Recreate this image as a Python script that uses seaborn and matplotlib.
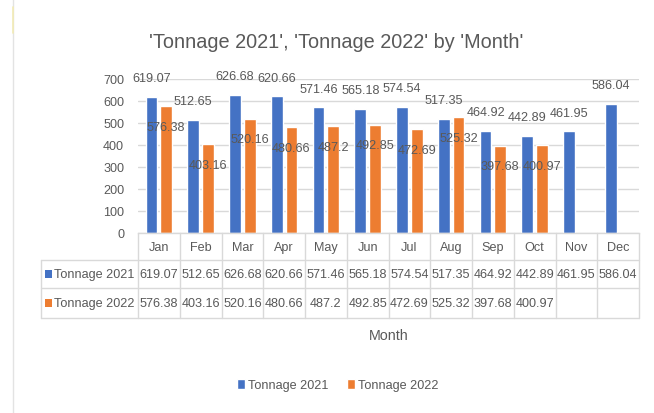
import matplotlib
matplotlib.use("Agg")
import matplotlib.pyplot as plt
import matplotlib.transforms as mtransforms
from matplotlib.lines import Line2D
from matplotlib.patches import Rectangle
import numpy as np
import pandas as pd
import seaborn as sns

# ---- data -------------------------------------------------------------
months = ["Jan", "Feb", "Mar", "Apr", "May", "Jun",
          "Jul", "Aug", "Sep", "Oct", "Nov", "Dec"]
tonnage_2021 = [619.07, 512.65, 626.68, 620.66, 571.46, 565.18,
                574.54, 517.35, 464.92, 442.89, 461.95, 586.04]
tonnage_2022 = [576.38, 403.16, 520.16, 480.66, 487.2, 492.85,
                472.69, 525.32, 397.68, 400.97, np.nan, np.nan]
series_names = ["Tonnage 2021", "Tonnage 2022"]
y_ticks = [0, 100, 200, 300, 400, 500, 600, 700]

# ---- style ------------------------------------------------------------
BLUE = "#4472C4"
ORANGE = "#ED7D31"
TEXT = "#595959"
GRID = "#D9D9D9"
W, H = 654, 414
FS = 9.1

sns.set_theme(style="white")
plt.rcParams["font.family"] = ["Liberation Sans", "DejaVu Sans"]
plt.rcParams["text.color"] = TEXT

def fx(px):
    return px / W

def fy(py):
    return 1 - py / H

df = pd.DataFrame({
    "Month": months * 2,
    "Tonnage": tonnage_2021 + tonnage_2022,
    "Series": [series_names[0]] * 12 + [series_names[1]] * 12,
})

fig = plt.figure(figsize=(W / 100, H / 100), dpi=100)
ax_left, ax_right, ax_top, ax_bottom = 138, 639, 80, 234
ax = fig.add_axes([fx(ax_left), fy(ax_bottom),
                   (ax_right - ax_left) / W, (ax_bottom - ax_top) / H])

sns.barplot(data=df, x="Month", y="Tonnage", hue="Series",
            order=months, hue_order=series_names,
            palette=[BLUE, ORANGE], saturation=1, errorbar=None,
            width=0.7, gap=0.2, ax=ax)

ax.set_xlim(-0.5, 11.5)
ax.set_ylim(0, 700)
ax.set_yticks(y_ticks)
ax.yaxis.grid(True, color=GRID, lw=1)
ax.set_axisbelow(True)
for side in ("left", "right", "top"):
    ax.spines[side].set_visible(False)
ax.spines["bottom"].set_color(GRID)
ax.spines["bottom"].set_linewidth(1)
ax.tick_params(axis="y", length=0, pad=10, labelsize=FS, labelcolor=TEXT)
ax.tick_params(axis="x", length=0, pad=5.5, labelsize=FS, labelcolor=TEXT)
ax.set_ylabel("")
ax.set_xlabel("Month", fontsize=10.3, color=TEXT)
ax.xaxis.set_label_coords(0.5, -(336 - ax_bottom) / (ax_bottom - ax_top))
ax.xaxis.label.set_va("center")

# ---- value labels on the bars -----------------------------------------
for container, dy in zip(ax.containers, (13.5, -15)):
    for bar in container:
        h = bar.get_height()
        if np.isnan(h) or h == 0:
            continue
        ax.annotate(f"{h:g}", (bar.get_x() + bar.get_width() / 2, h),
                    xytext=(0, dy), textcoords="offset points",
                    ha="center", va="center", fontsize=FS, color=TEXT,
                    annotation_clip=False)

# ---- data table under the axis ----------------------------------------
ax_h = ax_bottom - ax_top
trans = mtransforms.blended_transform_factory(ax.transData, ax.transAxes)
row_px = [0, 27, 55, 85]
row_y = [-r / ax_h for r in row_px]
table_left = -0.5 - (ax_left - 40.6) / ((ax_right - ax_left) / 12)

def tline(xs, ys):
    ax.add_artist(Line2D(xs, ys, transform=trans, color=GRID, lw=1,
                         clip_on=False))

# horizontal rules
for y in row_y[1:]:
    tline([table_left, 11.5], [y, y])
# column separators
for i in range(13):
    x = i - 0.5
    tline([x, x], [row_y[0], row_y[3]])
tline([table_left, table_left], [row_y[1], row_y[3]])

for r, (vals, color) in enumerate(zip((tonnage_2021, tonnage_2022),
                                      (BLUE, ORANGE))):
    yc = (row_y[r + 1] + row_y[r + 2]) / 2
    for i, v in enumerate(vals):
        if np.isnan(v):
            continue
        ax.text(i, yc, f"{v:g}", transform=trans, ha="center", va="center",
                fontsize=FS, color=TEXT, clip_on=False)
    ax.text(table_left + 0.31, yc, series_names[r], transform=trans,
            ha="left", va="center", fontsize=FS, color=TEXT, clip_on=False)
    cy = (row_px[r + 1] + row_px[r + 2]) / 2 + ax_bottom
    fig.add_artist(Rectangle((fx(44.5), fy(cy + 4)), 7 / W, 8 / H,
                             transform=fig.transFigure, color=color, lw=0))

# ---- title, legend and frame line --------------------------------------
fig.text(fx(336), fy(42), "'Tonnage 2021', 'Tonnage 2022' by 'Month'",
         ha="center", va="center", fontsize=14.3, color=TEXT)

sns.move_legend(ax, loc="center", bbox_to_anchor=(fx(338), fy(386)),
                bbox_transform=fig.transFigure, ncol=2, frameon=False,
                title=None, fontsize=FS, handlelength=0.62,
                handleheight=0.8, handletextpad=0.25, columnspacing=1.5)
for t in ax.get_legend().get_texts():
    t.set_color(TEXT)

fig.add_artist(Line2D([fx(13), fx(13)], [0, 1], transform=fig.transFigure,
                      color="#E3E3E3", lw=1))
fig.add_artist(Line2D([fx(13), fx(13)], [fy(34), fy(8)],
                      transform=fig.transFigure, color="#F2EBB5", lw=1.2))

fig.savefig("out.png", dpi=100)
